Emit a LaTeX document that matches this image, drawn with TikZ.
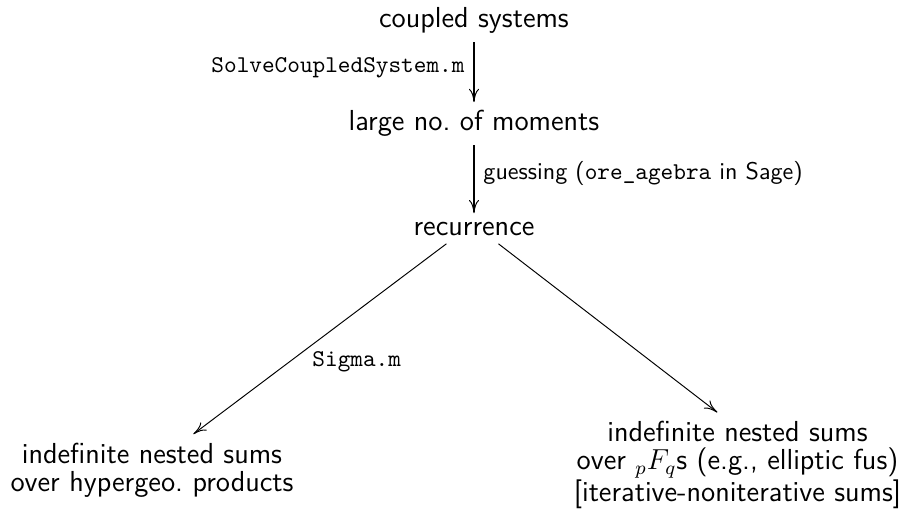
\documentclass[tikz,border=0pt]{standalone}
\usetikzlibrary{arrows.meta}
\renewcommand{\familydefault}{\sfdefault}
\tikzset{
  stage/.style={font=\fontsize{12}{11.8}\selectfont, align=center},
  tool/.style={font=\normalsize},
}
\begin{document}
\begin{tikzpicture}[>={To[length=5.5pt,width=4.2pt,line width=0.4pt]}]
  \useasboundingbox (0,0) rectangle (13.27,-7.554);
  \draw
    (6.912,-0.408) node[stage,anchor=base] (cs) {coupled systems}
    (6.912,-1.910) node[stage,anchor=base] (mom) {large no.\ of moments}
    (6.912,-3.427) node[stage,anchor=base] (rec) {recurrence}
    (2.217,-6.854) node[stage] (hyp) {indefinite nested sums\\over hypergeo.\ products}
    (10.755,-6.781) node[stage] (pfq) {indefinite nested sums\\over ${}_pF_q$s (e.g., elliptic fus)\\{[}iterative-noniterative sums]};
  \begin{scope}[->]
    \draw[line width=1.2pt] (cs) to node[tool,left,pos=0.42] (solve) {\texttt{SolveCoupledSystem.m}} (mom);
    \draw[line width=1.2pt] (mom) to node[tool,right,pos=0.42] (guess) {guessing (\texttt{ore\_agebra} in Sage)} (rec);
    \draw (rec.209) to node[tool,right=6pt,pos=0.62] (sigma) {\texttt{Sigma.m}} (hyp.41);
    \draw (rec.328) to (pfq.111);
  \end{scope}
\end{tikzpicture}
\end{document}
